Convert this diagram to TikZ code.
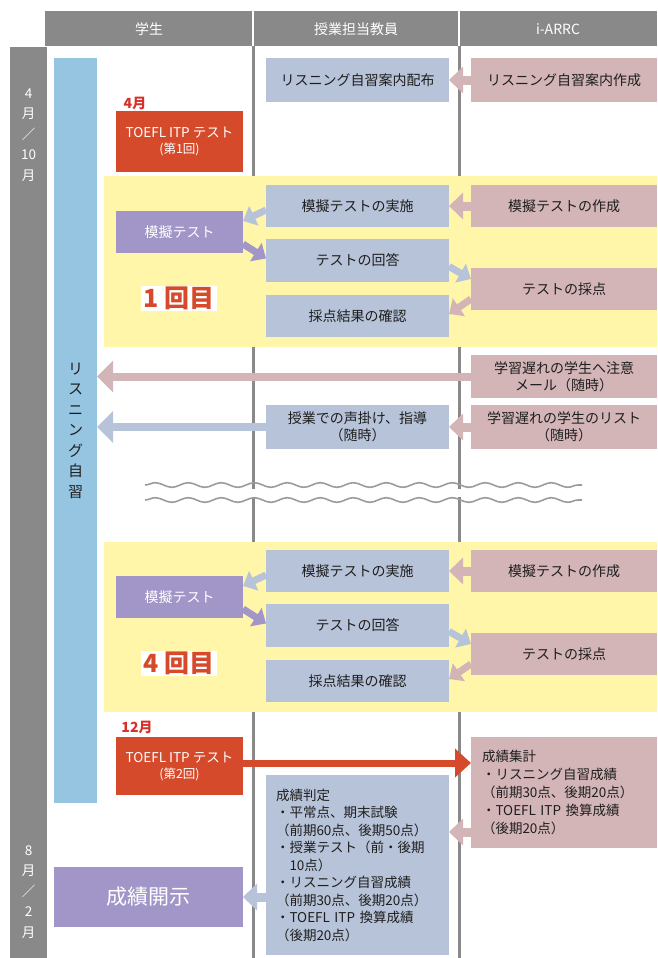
\documentclass[tikz,border=0pt]{standalone}
\usepackage{fontspec}
\setmainfont{Noto Sans CJK JP}
\usetikzlibrary{arrows.meta,decorations.pathmorphing,calc}
\definecolor{hgray}{HTML}{898989}
\definecolor{skyblue}{HTML}{96C5E2}
\definecolor{myred}{HTML}{D64A2C}
\definecolor{lblue}{HTML}{B7C3D8}
\definecolor{lpink}{HTML}{D3B5B7}
\definecolor{lpurple}{HTML}{A196C7}
\definecolor{yel}{HTML}{FFF6AA}
\definecolor{txt}{HTML}{1E1E1E}
\definecolor{redtxt}{HTML}{D6302A}
\begin{document}
\begin{tikzpicture}[x=1pt,y=-1pt,
  every node/.style={inner sep=0pt, outer sep=0pt},
  box/.style={minimum height=42pt, align=center, font=\fontsize{14}{17}\selectfont, text=txt},
  bbox/.style={box, fill=lblue, minimum width=183pt},
  pbox/.style={box, fill=lpink, minimum width=186pt},
  vbox/.style={box, fill=lpurple, minimum width=127pt, text=white},
  rbox/.style={box, fill=myred, minimum width=127pt, text=white, font=\fontsize{13.5}{17}\selectfont},
  htext/.style={text=white, font=\fontsize{14}{16}\selectfont},
  datetext/.style={text=white, align=center, font=\fontsize{13.5}{20.5}\selectfont},
  monthtxt/.style={text=redtxt, font=\bfseries\fontsize{14}{16}\selectfont},
  kaime/.style={text=myred, fill=white, inner xsep=2pt, inner ysep=1pt, font=\bfseries\fontsize{25}{28}\selectfont},
  divline/.style={hgray, line width=3pt},
  wave/.style={draw=hgray!85, line width=1.6pt, decorate, decoration={snake, amplitude=2.3pt, segment length=33pt}},
  barrow/.style={line width=8pt, -{Triangle[length=16pt,width=31pt]}},
  sarrow/.style={line width=9pt, -{Triangle[length=14pt,width=26pt]}},
  darrow/.style={line width=7pt, -{Triangle[length=12pt,width=21pt]}},
]
\useasboundingbox (0,0) rectangle (657,958);
% column lines
\draw[divline] (253,46) -- (253,958);
\draw[divline] (459,46) -- (459,958);
% header and side bar
\fill[hgray] (45,11) rectangle (657,46);
\draw[white, line width=2pt] (253,11) -- (253,46);
\draw[white, line width=2pt] (459,11) -- (459,46);
\fill[hgray] (10,47.5) rectangle (47,958);
\node[htext] (h1) at (149,29) {学生};
\node[htext] (h2) at (356,29) {授業担当教員};
\node[htext] (h3) at (558,29) {i-ARRC};
\node[datetext] (d1) at (28.5,135) {4\\月\\／\\10\\月};
\node[datetext] (d2) at (28.5,892) {8\\月\\／\\2\\月};
% listening bar
\node[fill=skyblue, minimum width=43pt, minimum height=745pt, align=center, text=txt,
  font=\fontsize{15}{20.5}\selectfont] (bar) at (75.5,430.5) {リ\\ス\\ニ\\ン\\グ\\自\\習};
% yellow panels
\fill[yel] (104,176) rectangle (657,347);
\fill[yel] (104,542) rectangle (657,712);
% waves
\fill[white] (140,488.5) rectangle (590,496.5);
\draw[wave] (145,485) -- (582,485);
\draw[wave] (145,500) -- (582,500);
% top row
\node[bbox, minimum height=44pt] (gd) at (357.5,80) {リスニング自習案内配布};
\node[pbox, minimum height=44pt] (gs) at (564,80) {リスニング自習案内作成};
\node[monthtxt] (m1) at (135,103) {4月};
\node[rbox, minimum height=61pt] (t1) at (179.5,141.5) {TOEFL ITP テスト\\[-1pt]\fontsize{12.5}{14}\selectfont (第1回)};
% panel 1
\node[bbox] (j1) at (357.5,206) {模擬テストの実施};
\node[pbox] (s1) at (564,206) {模擬テストの作成};
\node[vbox] (v1) at (179.5,232) {模擬テスト};
\node[bbox, minimum height=43pt] (k1) at (357.5,260.5) {テストの回答};
\node[pbox] (c1) at (564,289) {テストの採点};
\node[bbox] (r1) at (357.5,316) {採点結果の確認};
\node[kaime] (n1) at (179,298) {1\hspace{6pt}回目};
% panel 2
\node[bbox] (j2) at (357.5,571) {模擬テストの実施};
\node[pbox] (s2) at (564,571) {模擬テストの作成};
\node[vbox] (v2) at (179.5,597) {模擬テスト};
\node[bbox, minimum height=43pt] (k2) at (357.5,625.5) {テストの回答};
\node[pbox] (c2) at (564,654) {テストの採点};
\node[bbox] (r2) at (357.5,681) {採点結果の確認};
\node[kaime] (n2) at (179,663) {4\hspace{6pt}回目};
% middle rows
\node[pbox, minimum height=43pt] (mail) at (564,376.5) {学習遅れの学生へ注意\\メール（随時）};
\node[pbox, minimum height=44pt] (list) at (564,427) {学習遅れの学生のリスト\\（随時）};
\node[bbox, minimum height=44pt] (koe) at (357.5,427) {授業での声掛け、指導\\（随時）};
% bottom
\node[monthtxt] (m2) at (137,727) {12月};
\node[rbox, minimum height=58pt] (t2) at (179.5,766) {TOEFL ITP テスト\\[-1pt]\fontsize{12.5}{14}\selectfont (第2回)};
\node[pbox, minimum height=111pt, align=left, text width=164pt, inner xsep=11pt,
  font=\fontsize{13.5}{18}\selectfont] (sk) at (564,792.5)
  {成績集計\\・リスニング自習成績\\（前期30点、後期20点）\\・TOEFL ITP 換算成績\\（後期20点）};
\node[bbox, minimum height=180pt, align=left, text width=163pt, inner xsep=10pt,
  font=\fontsize{13.5}{17.5}\selectfont] (ht) at (357.5,865)
  {成績判定\\・平常点、期末試験\\（前期60点、後期50点）\\・授業テスト（前・後期\\　10点）\\・リスニング自習成績\\（前期30点、後期20点）\\・TOEFL ITP 換算成績\\（後期20点）};
\node[vbox, minimum width=189pt, minimum height=60pt, font=\fontsize{21}{24}\selectfont] (kj) at (148.5,897) {成績開示};
% arrows top
\draw[sarrow, lpink] (gs.west) -- (gd.east);
% panel 1 arrows
\draw[sarrow, lpink] (s1.west) -- (j1.east);
\draw[darrow, lblue] ([yshift=-4pt]j1.west) -- ([yshift=-10pt]v1.north east);
\draw[darrow, lpurple] ([yshift=-12pt]v1.east) -- ([yshift=2pt]k1.west);
\draw[darrow, lblue] ([yshift=-6pt]k1.east) -- ([yshift=10pt]c1.west);
\draw[darrow, lpink] ([yshift=-10pt]c1.west) -- ([yshift=2pt]r1.east);
% panel 2 arrows
\draw[sarrow, lpink] (s2.west) -- (j2.east);
\draw[darrow, lblue] ([yshift=-4pt]j2.west) -- ([yshift=-10pt]v2.north east);
\draw[darrow, lpurple] ([yshift=-12pt]v2.east) -- ([yshift=2pt]k2.west);
\draw[darrow, lblue] ([yshift=-6pt]k2.east) -- ([yshift=10pt]c2.west);
\draw[darrow, lpink] ([yshift=-10pt]c2.west) -- ([yshift=2pt]r2.east);
% long arrows
\draw[barrow, lpink] (mail.west) -- (mail.west -| bar.east);
\draw[barrow, lblue] (koe.west) -- (koe.west -| bar.east);
\draw[sarrow, lpink] (list.west) -- (koe.east);
% bottom arrows
\draw[line width=7pt, myred, -{Triangle[length=16pt,width=28pt]}] ([yshift=3pt]t2.east) -- ([yshift=3pt]t2.east -| sk.west);
\coordinate (skout) at ([yshift=-39.5pt]sk.west);
\draw[sarrow, lpink] (skout) -- (skout -| ht.east);
\draw[sarrow, lblue] (kj.east -| ht.west) -- (kj.east);
\end{tikzpicture}
\end{document}
